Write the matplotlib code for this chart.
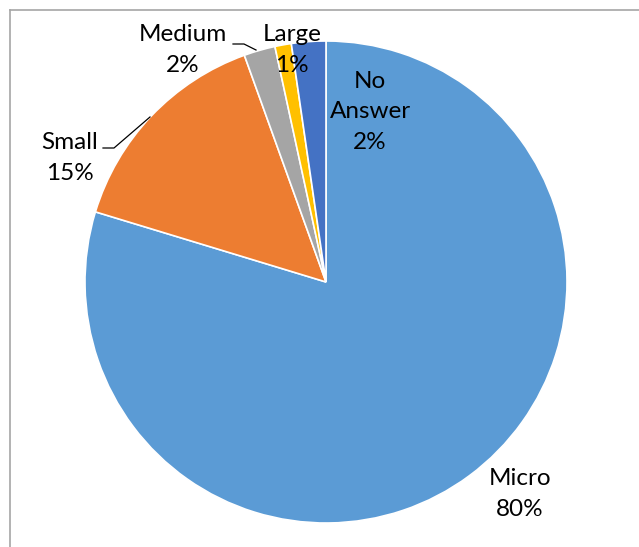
import matplotlib.pyplot as plt
from matplotlib.lines import Line2D

# company size shares (percent)
sizes = ['Micro', 'Small', 'Medium', 'Large', 'No\nAnswer']
shares = [79.7, 14.8, 2.1, 1.1, 2.3]
colors = ['#5B9BD5', '#ED7D31', '#A5A5A5', '#FFC000', '#4472C4']

W, H = 639, 547
CX, CY, R = 326, 282, 241

plt.rcParams['font.family'] = ['Lato', 'DejaVu Sans']

fig = plt.figure(figsize=(W / 100, H / 100), dpi=100)
ax = fig.add_axes([(CX - R) / W, (H - CY - R) / H, 2 * R / W, 2 * R / H])
ax.pie(shares, colors=colors, startangle=90, counterclock=False, radius=1,
       wedgeprops=dict(edgecolor='white', linewidth=1.2))
ax.set_xlim(-1, 1)
ax.set_ylim(-1, 1)
ax.set_aspect('equal')
ax.axis('off')


def px(x, y):
  # pixel position -> data coords of the pie axes
  return (x - CX) / R, (CY - y) / R


# label positions in pixels (centre of the two/three line block)
label_pos = {
  'Micro': (520, 494),
  'Small': (70, 158),
  'Medium': (183, 50),
  'Large': (292, 50),
  'No\nAnswer': (370, 112),
}
for name, val in zip(sizes, shares):
  x, y = px(*label_pos[name])
  ax.text(x, y, f'{name}\n{round(val)}%', ha='center', va='center',
          fontsize=17.5, linespacing=1.55, color='black', clip_on=False)

# leader lines
for pts in ([(103, 148), (114, 148), (150, 117)],
            [(233, 44), (244, 44), (256, 50)]):
  xs, ys = zip(*[px(*p) for p in pts])
  ax.plot(xs, ys, color='black', lw=0.9, clip_on=False)

# chart area border (top and left edges)
fig.add_artist(Line2D([10 / W, 1], [1 - 10 / H, 1 - 10 / H], color='#A6A6A6', lw=1.2,
                      transform=fig.transFigure))
fig.add_artist(Line2D([10 / W, 10 / W], [0, 1 - 10 / H], color='#A6A6A6', lw=1.2,
                      transform=fig.transFigure))

fig.savefig('out.png', dpi=100)
